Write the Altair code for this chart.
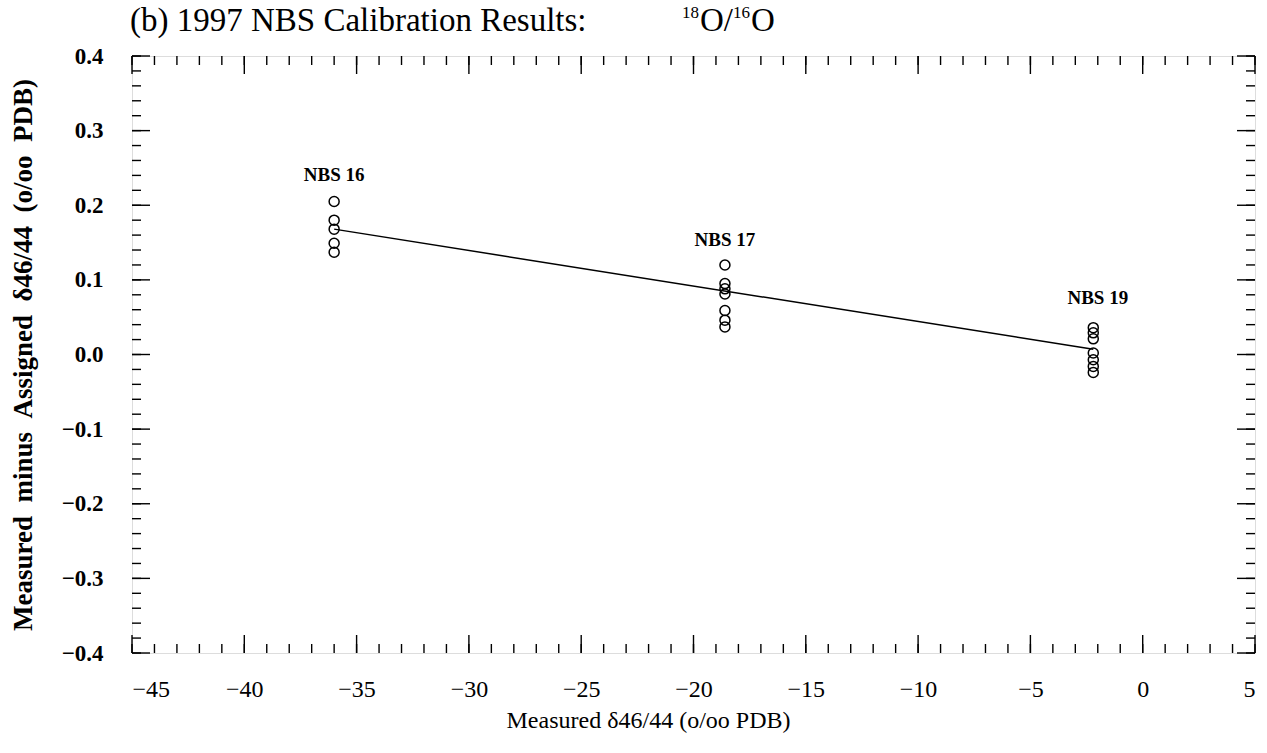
import altair as alt
import numpy as np
import pandas as pd

# Measured minus assigned delta-46/44 for each NBS standard (per mil PDB)
standards = ["NBS 16", "NBS 17", "NBS 19"]
measured = [-36.0, -18.6, -2.2]
nbs16_dev = [0.205, 0.180, 0.168, 0.149, 0.137]
nbs17_dev = [0.120, 0.095, 0.088, 0.081, 0.059, 0.046, 0.037]
nbs19_dev = [0.036, 0.029, 0.021, 0.002, -0.007, -0.016, -0.024]

# Fitted calibration line end points
fit_x = [-36.0, -2.2]
fit_y = [0.168, 0.007]

# Standard name labels
label_x = [-36.0, -18.6, -2.0]
label_y = [0.240, 0.1535, 0.0755]

x_ticks = list(range(-45, 6, 5))
y_ticks = [-0.4, -0.3, -0.2, -0.1, 0.0, 0.1, 0.2, 0.3, 0.4]

W, H = 1123, 597
SERIF = "Liberation Serif"
GAP = "\u00a0\u00a0"  # double word gap that SVG will not collapse

rows = []
for name, xv, devs in zip(standards, measured, [nbs16_dev, nbs17_dev, nbs19_dev]):
    for d in devs:
        rows.append({"standard": name, "x": xv, "y": d})
points_df = pd.DataFrame(rows)
fit_df = pd.DataFrame({"x": fit_x, "y": fit_y})
labels_df = pd.DataFrame({"x": label_x, "y": label_y, "text": standards})

xs = alt.Scale(domain=[-45, 5], nice=False, zero=False)
ys = alt.Scale(domain=[-0.4, 0.4], nice=False, zero=False)

x_axis = alt.Axis(
    values=x_ticks, format="d", ticks=False, tickSize=0, domain=False, grid=False,
    labelFont=SERIF, labelFontSize=24, labelColor="black", labelPadding=24,
    title="Measured δ46/44 (o/oo PDB)", titleFont=SERIF, titleFontSize=24,
    titleFontWeight="normal", titleColor="black", titleX=516, titleY=67,
    titleBaseline="middle", titleAnchor="middle",
)
y_axis = alt.Axis(
    values=y_ticks, format=".1f", ticks=False, tickSize=0, domain=False, grid=False,
    labelFont=SERIF, labelFontSize=23, labelFontWeight="bold", labelColor="black",
    labelPadding=29,
    title=GAP.join(["Measured", "minus", "Assigned", "δ46/44", "(o/oo", "PDB)"]),
    titleFont=SERIF, titleFontSize=27, titleFontWeight="bold", titleColor="black",
    titleX=-109, titleY=H / 2, titleBaseline="middle", titleAnchor="middle",
)

points = alt.Chart(points_df).mark_point(
    shape="circle", filled=False, color="black", size=100, strokeWidth=1.5, opacity=1
).encode(
    x=alt.X("x:Q", scale=xs, axis=x_axis),
    y=alt.Y("y:Q", scale=ys, axis=y_axis),
)

fit_line = alt.Chart(fit_df).mark_line(color="black", strokeWidth=1.5).encode(
    x=alt.X("x:Q", scale=xs), y=alt.Y("y:Q", scale=ys)
)

labels = alt.Chart(labels_df).mark_text(
    font=SERIF, fontSize=19, fontWeight="bold", color="black", baseline="middle"
).encode(x=alt.X("x:Q", scale=xs), y=alt.Y("y:Q", scale=ys), text="text:N")

# Inward tick marks on all four sides of the frame
x_minor = pd.DataFrame({"v": np.arange(-45, 6, 1)})
x_major = pd.DataFrame({"v": x_ticks})
y_minor = pd.DataFrame({"v": np.round(np.arange(-0.4, 0.4001, 0.02), 2)})
y_major = pd.DataFrame({"v": y_ticks})

def x_tick_layer(df, length):
    base = alt.Chart(df).mark_rule(color="black", strokeWidth=1.4)
    bottom = base.encode(x=alt.X("v:Q", scale=xs), y=alt.value(H), y2=alt.value(H - length))
    top = base.encode(x=alt.X("v:Q", scale=xs), y=alt.value(0), y2=alt.value(length))
    return bottom + top

def y_tick_layer(df, length):
    base = alt.Chart(df).mark_rule(color="black", strokeWidth=1.4)
    left = base.encode(y=alt.Y("v:Q", scale=ys), x=alt.value(0), x2=alt.value(length))
    right = base.encode(y=alt.Y("v:Q", scale=ys), x=alt.value(W), x2=alt.value(W - length))
    return left + right

ticks = x_tick_layer(x_minor, 9) + x_tick_layer(x_major, 18) + y_tick_layer(y_minor, 9) + y_tick_layer(y_major, 18)

# Panel title with superscripted isotope masses
def title_text(text, x, y, size):
    return alt.Chart(pd.DataFrame({"t": [text]})).mark_text(
        font=SERIF, fontSize=size, color="black", align="left", baseline="alphabetic"
    ).encode(x=alt.value(x), y=alt.value(y), text="t:N")

title = (
    title_text("(b) 1997 NBS Calibration Results:", -2, -25, 33)
    + title_text("18", 550, -38, 17)
    + title_text("O/", 568, -25, 33)
    + title_text("16", 601, -38, 17)
    + title_text("O", 619, -25, 33)
)

chart = alt.layer(ticks, fit_line, points, labels, title).properties(
    width=W, height=H,
    autosize=alt.AutoSizeParams(type="none"),
    padding={"left": 132, "top": 56, "right": 12, "bottom": 100},
).configure_view(stroke="black", strokeWidth=1.8).configure(background="white")

chart.save("out.html", embed_options={"renderer": "svg", "actions": False})
